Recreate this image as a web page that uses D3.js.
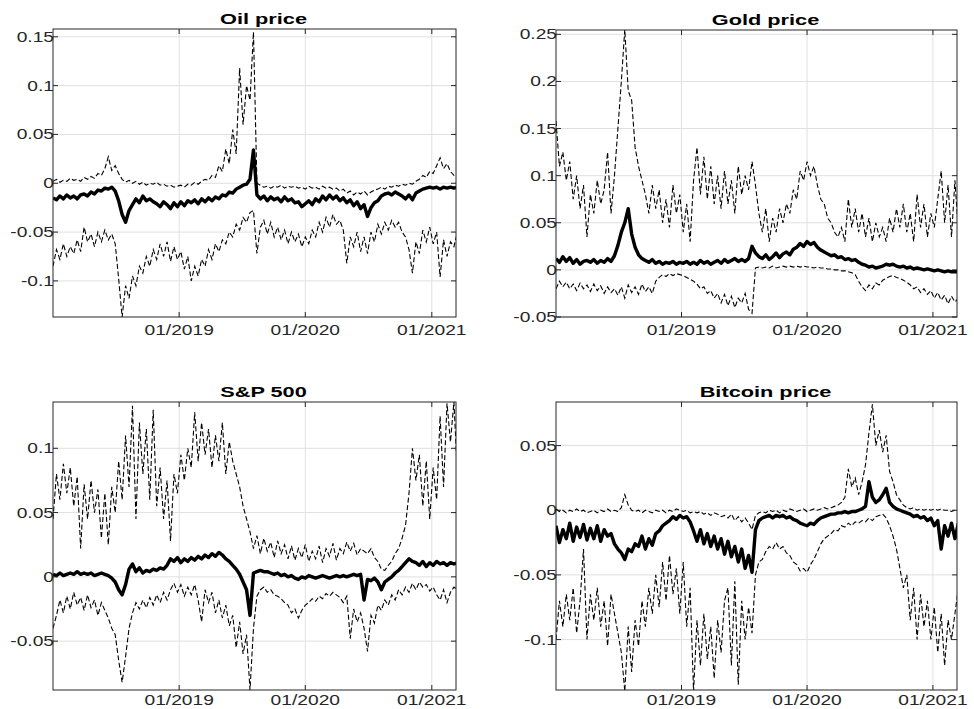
<!DOCTYPE html>
<html>
<head>
<meta charset="utf-8">
<script src="https://cdn.jsdelivr.net/npm/d3@7"></script>
<style>
  body { margin: 0; background: #fff; }
  svg { display: block; }
  text { font-family: "Liberation Sans", Arial, Helvetica, sans-serif; }
</style>
</head>
<body>
<script>
// sampling: one value every 10 days starting 01/01/2018
var startDate = "2018-01-01";
var endDate = "2021-03-12";
var stepDays = 10;

var xTickDates = ["2019-01-01", "2020-01-01", "2021-01-01"];
var xTickLabels = ["01/2019", "01/2020", "01/2021"];

var titles = ["Oil price", "Gold price", "S&P 500", "Bitcoin price"];

// Oil price
var oilTicks = [-0.1, -0.05, 0, 0.05, 0.1, 0.15];
var oilTickLabels = ["-0.1", "-0.05", "0", "0.05", "0.1", "0.15"];
var oilMean = [
  -0.015,-0.017,-0.013,-0.016,-0.012,-0.015,-0.013,-0.016,-0.012,-0.011,
  -0.013,-0.009,-0.011,-0.007,-0.008,-0.005,-0.006,-0.004,-0.008,-0.018,
  -0.032,-0.040,-0.028,-0.022,-0.016,-0.020,-0.013,-0.018,-0.016,-0.019,
  -0.021,-0.024,-0.019,-0.022,-0.026,-0.020,-0.024,-0.019,-0.023,-0.018,
  -0.020,-0.017,-0.021,-0.016,-0.019,-0.015,-0.018,-0.014,-0.016,-0.012,
  -0.013,-0.009,-0.010,-0.006,-0.004,-0.002,-0.001,0.004,0.034,-0.012,
  -0.016,-0.013,-0.018,-0.014,-0.017,-0.015,-0.019,-0.014,-0.018,-0.016,
  -0.020,-0.019,-0.024,-0.021,-0.018,-0.022,-0.016,-0.019,-0.013,-0.017,
  -0.012,-0.016,-0.013,-0.018,-0.015,-0.020,-0.017,-0.023,-0.019,-0.026,
  -0.022,-0.034,-0.025,-0.020,-0.018,-0.013,-0.011,-0.010,-0.012,-0.009,
  -0.011,-0.013,-0.016,-0.012,-0.017,-0.010,-0.008,-0.006,-0.005,-0.004,
  -0.005,-0.004,-0.006,-0.004,-0.005,-0.004,-0.005,-0.004];
var oilUpper = [
  0.002,0.004,0.001,0.003,0.002,0.005,0.003,0.004,0.002,0.006,
  0.004,0.007,0.005,0.010,0.008,0.015,0.027,0.013,0.018,0.010,
  0.004,0.001,0.003,0.000,0.002,-0.001,0.001,-0.002,0.000,-0.001,
  0.001,-0.002,-0.001,-0.003,-0.002,-0.004,-0.003,-0.002,-0.004,-0.001,
  -0.002,0.001,-0.001,0.002,0.004,0.003,0.008,0.006,0.018,0.012,
  0.035,0.020,0.055,0.030,0.118,0.060,0.100,0.085,0.155,0.000,
  -0.002,-0.004,-0.003,-0.005,-0.003,-0.004,-0.002,-0.005,-0.003,-0.004,
  -0.003,-0.005,-0.004,-0.006,-0.003,-0.005,-0.004,-0.006,-0.003,-0.005,
  -0.004,-0.006,-0.005,-0.008,-0.006,-0.010,-0.008,-0.012,-0.009,-0.011,
  -0.008,-0.012,-0.009,-0.007,-0.006,-0.004,-0.006,-0.003,-0.004,-0.002,
  -0.003,-0.001,-0.002,0.000,-0.001,0.002,0.004,0.008,0.006,0.012,
  0.010,0.018,0.026,0.015,0.020,0.012,0.008,0.006];
var oilLower = [
  -0.085,-0.068,-0.078,-0.062,-0.075,-0.065,-0.072,-0.058,-0.070,-0.045,
  -0.060,-0.052,-0.065,-0.050,-0.060,-0.048,-0.058,-0.052,-0.062,-0.098,
  -0.137,-0.105,-0.118,-0.095,-0.105,-0.085,-0.092,-0.075,-0.085,-0.068,
  -0.078,-0.062,-0.075,-0.060,-0.080,-0.065,-0.078,-0.070,-0.088,-0.075,
  -0.100,-0.085,-0.095,-0.078,-0.085,-0.068,-0.078,-0.062,-0.070,-0.058,
  -0.062,-0.050,-0.055,-0.042,-0.048,-0.035,-0.040,-0.030,-0.028,-0.072,
  -0.045,-0.038,-0.052,-0.040,-0.055,-0.045,-0.058,-0.048,-0.062,-0.050,
  -0.060,-0.052,-0.065,-0.055,-0.062,-0.048,-0.055,-0.040,-0.050,-0.035,
  -0.045,-0.032,-0.042,-0.038,-0.048,-0.082,-0.055,-0.065,-0.050,-0.070,
  -0.055,-0.072,-0.050,-0.060,-0.042,-0.052,-0.040,-0.048,-0.038,-0.045,
  -0.040,-0.050,-0.055,-0.068,-0.092,-0.060,-0.072,-0.048,-0.060,-0.045,
  -0.062,-0.050,-0.096,-0.058,-0.075,-0.060,-0.065,-0.050];

// Gold price
var goldTicks = [-0.05, 0, 0.05, 0.1, 0.15, 0.2, 0.25];
var goldTickLabels = ["-0.05", "0", "0.05", "0.1", "0.15", "0.2", "0.25"];
var goldMean = [
  0.012,0.008,0.014,0.009,0.013,0.007,0.011,0.006,0.009,0.010,
  0.008,0.011,0.007,0.010,0.008,0.012,0.009,0.015,0.026,0.040,
  0.050,0.065,0.038,0.024,0.016,0.012,0.010,0.008,0.011,0.007,
  0.009,0.006,0.008,0.007,0.009,0.006,0.008,0.007,0.009,0.006,
  0.008,0.006,0.010,0.007,0.009,0.006,0.008,0.010,0.007,0.011,
  0.008,0.010,0.012,0.009,0.011,0.009,0.012,0.025,0.018,0.014,
  0.012,0.016,0.011,0.014,0.018,0.013,0.017,0.019,0.016,0.022,
  0.024,0.028,0.025,0.030,0.027,0.029,0.024,0.021,0.019,0.017,
  0.015,0.016,0.013,0.014,0.011,0.012,0.010,0.011,0.008,0.006,
  0.005,0.003,0.004,0.002,0.003,0.004,0.006,0.005,0.006,0.004,
  0.003,0.004,0.002,0.003,0.001,0.002,0.001,0.000,0.001,0.000,
  -0.001,0.000,-0.001,-0.002,-0.001,-0.002,-0.002,-0.002];
var goldUpper = [
  0.158,0.110,0.125,0.095,0.115,0.075,0.100,0.065,0.090,0.035,
  0.080,0.060,0.095,0.070,0.085,0.125,0.060,0.100,0.150,0.200,
  0.255,0.190,0.180,0.130,0.110,0.095,0.080,0.060,0.090,0.065,
  0.085,0.050,0.075,0.045,0.090,0.060,0.080,0.040,0.070,0.030,
  0.095,0.130,0.080,0.120,0.075,0.110,0.070,0.100,0.065,0.105,
  0.070,0.095,0.060,0.110,0.080,0.100,0.085,0.115,0.090,0.060,
  0.040,0.065,0.030,0.055,0.040,0.065,0.050,0.070,0.060,0.085,
  0.075,0.105,0.095,0.115,0.100,0.110,0.090,0.075,0.070,0.055,
  0.050,0.040,0.035,0.045,0.030,0.075,0.045,0.065,0.040,0.060,
  0.035,0.055,0.030,0.050,0.035,0.045,0.030,0.055,0.040,0.065,
  0.045,0.070,0.040,0.060,0.030,0.080,0.045,0.070,0.035,0.060,
  0.045,0.075,0.105,0.050,0.090,0.035,0.095,0.040];
var goldLower = [
  -0.020,-0.012,-0.018,-0.013,-0.020,-0.015,-0.022,-0.014,-0.020,-0.016,
  -0.023,-0.015,-0.022,-0.017,-0.025,-0.018,-0.024,-0.020,-0.027,-0.018,
  -0.030,-0.016,-0.024,-0.018,-0.026,-0.015,-0.023,-0.018,-0.025,-0.012,
  -0.008,-0.005,-0.007,-0.004,-0.006,-0.004,-0.005,-0.006,-0.008,-0.010,
  -0.012,-0.015,-0.020,-0.018,-0.025,-0.022,-0.030,-0.025,-0.035,-0.026,
  -0.038,-0.028,-0.040,-0.030,-0.035,-0.025,-0.042,-0.046,0.002,0.003,
  0.002,0.003,0.002,0.004,0.002,0.003,0.004,0.003,0.004,0.003,
  0.004,0.003,0.004,0.003,0.003,0.002,0.003,0.002,0.002,0.001,
  0.001,0.000,0.000,-0.001,-0.001,-0.002,-0.003,-0.005,-0.012,-0.018,
  -0.022,-0.016,-0.020,-0.014,-0.016,-0.011,-0.009,-0.007,-0.006,-0.008,
  -0.009,-0.011,-0.013,-0.016,-0.020,-0.018,-0.024,-0.020,-0.026,-0.022,
  -0.030,-0.024,-0.032,-0.027,-0.036,-0.028,-0.034,-0.030];

// S&P 500
var spTicks = [-0.05, 0, 0.05, 0.1];
var spTickLabels = ["-0.05", "0", "0.05", "0.1"];
var spMean = [
  0.002,0.001,0.003,0.001,0.002,0.003,0.002,0.004,0.002,0.003,
  0.002,0.003,0.001,0.002,0.003,0.002,0.001,-0.001,-0.004,-0.010,
  -0.014,-0.006,0.006,0.010,0.004,0.007,0.003,0.005,0.004,0.006,
  0.005,0.007,0.006,0.009,0.014,0.012,0.015,0.011,0.014,0.012,
  0.015,0.013,0.016,0.014,0.017,0.015,0.018,0.016,0.019,0.017,
  0.014,0.012,0.009,0.006,0.002,-0.004,-0.010,-0.030,0.003,0.004,
  0.005,0.004,0.004,0.003,0.002,0.003,0.001,0.002,0.000,0.001,
  -0.001,-0.002,0.000,-0.001,0.001,0.000,-0.001,0.000,0.001,0.000,
  -0.001,0.000,0.001,0.000,0.001,0.000,0.001,0.002,0.001,0.002,
  -0.018,-0.002,-0.003,-0.001,-0.004,-0.010,-0.004,-0.002,0.000,0.003,
  0.005,0.008,0.011,0.014,0.012,0.011,0.009,0.012,0.008,0.011,
  0.009,0.012,0.010,0.011,0.009,0.011,0.010,0.011];
var spUpper = [
  0.045,0.080,0.060,0.088,0.065,0.085,0.055,0.078,0.022,0.072,
  0.045,0.075,0.050,0.068,0.030,0.065,0.025,0.070,0.050,0.090,
  0.060,0.110,0.070,0.133,0.045,0.120,0.080,0.115,0.060,0.130,
  0.055,0.085,0.045,0.075,0.028,0.080,0.065,0.095,0.075,0.100,
  0.085,0.128,0.090,0.120,0.095,0.115,0.085,0.110,0.090,0.120,
  0.080,0.105,0.090,0.080,0.070,0.055,0.045,0.035,0.022,0.032,
  0.018,0.030,0.020,0.027,0.015,0.028,0.018,0.025,0.014,0.024,
  0.013,0.022,0.015,0.025,0.012,0.020,0.014,0.024,0.011,0.022,
  0.016,0.026,0.013,0.022,0.018,0.027,0.020,0.026,0.017,0.022,
  0.020,0.018,0.022,0.015,0.012,0.006,0.005,0.009,0.012,0.018,
  0.022,0.030,0.040,0.065,0.100,0.075,0.095,0.055,0.090,0.045,
  0.085,0.060,0.125,0.070,0.135,0.105,0.136,0.080];
var spLower = [
  -0.040,-0.030,-0.018,-0.028,-0.015,-0.025,-0.012,-0.022,-0.016,-0.026,
  -0.014,-0.024,-0.018,-0.030,-0.020,-0.026,-0.032,-0.040,-0.045,-0.065,
  -0.082,-0.062,-0.040,-0.028,-0.020,-0.025,-0.018,-0.024,-0.016,-0.022,
  -0.014,-0.020,-0.012,-0.018,-0.010,-0.005,-0.012,-0.006,-0.015,-0.008,
  -0.014,-0.006,-0.018,-0.035,-0.010,-0.020,-0.012,-0.028,-0.018,-0.032,
  -0.022,-0.038,-0.030,-0.055,-0.035,-0.060,-0.045,-0.088,-0.040,-0.015,
  -0.010,-0.008,-0.012,-0.010,-0.014,-0.015,-0.017,-0.020,-0.022,-0.028,
  -0.025,-0.032,-0.026,-0.022,-0.020,-0.017,-0.019,-0.015,-0.017,-0.013,
  -0.015,-0.012,-0.014,-0.016,-0.020,-0.015,-0.048,-0.025,-0.035,-0.028,
  -0.040,-0.058,-0.030,-0.036,-0.022,-0.026,-0.018,-0.022,-0.014,-0.018,
  -0.010,-0.014,-0.008,-0.012,-0.005,-0.010,-0.004,-0.008,-0.006,-0.011,
  -0.008,-0.014,-0.018,-0.010,-0.020,-0.012,-0.008,-0.010];

// Bitcoin price
var btcTicks = [-0.1, -0.05, 0, 0.05];
var btcTickLabels = ["-0.1", "-0.05", "0", "0.05"];
var btcMean = [
  -0.012,-0.025,-0.015,-0.022,-0.010,-0.024,-0.013,-0.021,-0.011,-0.023,
  -0.014,-0.022,-0.012,-0.024,-0.015,-0.020,-0.018,-0.026,-0.030,-0.033,
  -0.038,-0.030,-0.032,-0.026,-0.028,-0.020,-0.030,-0.022,-0.027,-0.018,
  -0.016,-0.012,-0.010,-0.008,-0.005,-0.007,-0.004,-0.006,-0.005,-0.009,
  -0.016,-0.024,-0.015,-0.026,-0.018,-0.028,-0.020,-0.030,-0.022,-0.034,
  -0.024,-0.036,-0.028,-0.040,-0.030,-0.045,-0.035,-0.048,-0.015,-0.008,
  -0.006,-0.005,-0.004,-0.006,-0.004,-0.005,-0.004,-0.006,-0.005,-0.007,
  -0.008,-0.010,-0.011,-0.012,-0.010,-0.011,-0.008,-0.006,-0.005,-0.004,
  -0.003,-0.003,-0.002,-0.002,-0.001,-0.002,-0.001,-0.001,0.000,0.001,
  0.003,0.022,0.010,0.006,0.008,0.012,0.017,0.006,0.003,0.001,
  0.000,-0.001,-0.002,-0.003,-0.005,-0.004,-0.006,-0.005,-0.008,-0.006,
  -0.012,-0.008,-0.030,-0.012,-0.020,-0.010,-0.022,-0.010];
var btcUpper = [
  0.001,-0.001,0.000,-0.002,0.000,-0.001,0.001,-0.001,0.000,-0.002,
  -0.001,0.000,-0.002,0.000,-0.001,0.001,-0.001,0.000,-0.001,0.002,
  0.012,0.004,0.000,-0.001,0.000,-0.002,0.000,-0.001,-0.002,0.000,
  -0.001,0.000,-0.002,0.000,-0.001,0.001,0.000,-0.001,0.000,-0.002,
  -0.001,-0.002,-0.001,-0.003,-0.002,-0.004,-0.002,-0.003,-0.005,-0.004,
  -0.006,-0.003,-0.008,-0.005,-0.009,-0.006,-0.010,-0.015,-0.004,-0.002,
  -0.001,-0.002,0.000,-0.001,0.000,-0.002,0.000,-0.001,0.001,0.000,
  -0.001,0.000,0.001,-0.001,0.000,0.001,0.000,0.001,0.002,0.001,
  0.002,0.003,0.004,0.006,0.010,0.032,0.018,0.025,0.012,0.022,
  0.035,0.060,0.082,0.050,0.062,0.045,0.058,0.030,0.022,0.012,
  0.008,0.004,0.002,0.001,0.002,0.000,0.001,0.000,0.001,0.000,
  0.001,0.000,0.001,0.000,0.000,-0.001,0.000,0.000];
var btcLower = [
  -0.100,-0.070,-0.090,-0.065,-0.085,-0.060,-0.095,-0.070,-0.030,-0.100,
  -0.065,-0.085,-0.060,-0.090,-0.070,-0.105,-0.065,-0.080,-0.095,-0.110,
  -0.140,-0.090,-0.125,-0.085,-0.105,-0.070,-0.090,-0.060,-0.080,-0.050,
  -0.075,-0.040,-0.070,-0.035,-0.065,-0.045,-0.080,-0.040,-0.090,-0.060,
  -0.140,-0.085,-0.120,-0.080,-0.115,-0.090,-0.130,-0.085,-0.110,-0.070,
  -0.060,-0.120,-0.055,-0.135,-0.070,-0.100,-0.075,-0.095,-0.050,-0.040,
  -0.038,-0.032,-0.028,-0.030,-0.025,-0.030,-0.028,-0.033,-0.035,-0.040,
  -0.042,-0.047,-0.045,-0.048,-0.042,-0.038,-0.032,-0.026,-0.022,-0.020,
  -0.018,-0.015,-0.016,-0.012,-0.013,-0.010,-0.012,-0.009,-0.010,-0.008,
  -0.009,-0.006,-0.008,-0.005,-0.004,-0.003,-0.006,-0.012,-0.020,-0.030,
  -0.045,-0.060,-0.050,-0.085,-0.060,-0.100,-0.065,-0.090,-0.070,-0.100,
  -0.075,-0.110,-0.080,-0.120,-0.085,-0.100,-0.080,-0.060];

function createPanels(){
    var w = 974, h = 709;
    var parse = d3.utcParse("%Y-%m-%d");
    var start = parse(startDate);
    var dates = d3.range(oilMean.length).map(function(i){
        return d3.utcDay.offset(start, i * stepDays);
    });
    var xTicks = xTickDates.map(parse);

    var svg = d3.select("body")
                .append("svg")
                .attr("width", w)
                .attr("height", h);

    var panels = [
        {title: titles[0], mean: oilMean, upper: oilUpper, lower: oilLower,
         ticks: oilTicks, labels: oilTickLabels, domain: [-0.137, 0.158],
         left: 53, right: 456, top: 29, bottom: 317, labelGap: 18},
        {title: titles[1], mean: goldMean, upper: goldUpper, lower: goldLower,
         ticks: goldTicks, labels: goldTickLabels, domain: [-0.05, 0.2546],
         left: 556, right: 957, top: 30, bottom: 317, labelGap: 18},
        {title: titles[2], mean: spMean, upper: spUpper, lower: spLower,
         ticks: spTicks, labels: spTickLabels, domain: [-0.088, 0.136],
         left: 53, right: 456, top: 402, bottom: 690, labelGap: 15},
        {title: titles[3], mean: btcMean, upper: btcUpper, lower: btcLower,
         ticks: btcTicks, labels: btcTickLabels, domain: [-0.139, 0.0837],
         left: 556, right: 957, top: 402, bottom: 690, labelGap: 15}
    ];

    panels.forEach(function(p, k){
        var x = d3.scaleUtc()
                  .domain([start, parse(endDate)])
                  .range([p.left, p.right]);
        var y = d3.scaleLinear()
                  .domain(p.domain)
                  .range([p.bottom, p.top]);

        var g = svg.append("g").attr("class", "panel");

        svg.append("clipPath")
           .attr("id", "clip" + k)
           .append("rect")
           .attr("x", p.left)
           .attr("y", p.top)
           .attr("width", p.right - p.left)
           .attr("height", p.bottom - p.top);

        // grid
        g.selectAll(".gx")
         .data(xTicks)
         .enter()
         .append("line")
         .attr("x1", function(d){ return x(d); })
         .attr("x2", function(d){ return x(d); })
         .attr("y1", p.top)
         .attr("y2", p.bottom)
         .attr("stroke", "#e0e0e0")
         .attr("stroke-width", 1);

        g.selectAll(".gy")
         .data(p.ticks)
         .enter()
         .append("line")
         .attr("x1", p.left)
         .attr("x2", p.right)
         .attr("y1", function(d){ return y(d); })
         .attr("y2", function(d){ return y(d); })
         .attr("stroke", "#e0e0e0")
         .attr("stroke-width", 1);

        var line = d3.line()
                     .x(function(d, i){ return x(dates[i]); })
                     .y(function(d){ return y(d); });

        var lines = g.append("g").attr("clip-path", "url(#clip" + k + ")");

        [p.upper, p.lower].forEach(function(s){
            lines.append("path")
                 .datum(s)
                 .attr("d", line)
                 .attr("fill", "none")
                 .attr("stroke", "#000")
                 .attr("stroke-width", 1.1)
                 .attr("stroke-dasharray", "5,2.5");
        });

        lines.append("path")
             .datum(p.mean)
             .attr("d", line)
             .attr("fill", "none")
             .attr("stroke", "#000")
             .attr("stroke-width", 3.4)
             .attr("stroke-linejoin", "round");

        // box
        g.append("rect")
         .attr("x", p.left)
         .attr("y", p.top)
         .attr("width", p.right - p.left)
         .attr("height", p.bottom - p.top)
         .attr("fill", "none")
         .attr("stroke", "#262626")
         .attr("stroke-width", 1);

        // inward ticks on all four sides
        xTicks.forEach(function(d){
            g.append("line").attr("x1", x(d)).attr("x2", x(d))
             .attr("y1", p.bottom).attr("y2", p.bottom - 5)
             .attr("stroke", "#262626");
            g.append("line").attr("x1", x(d)).attr("x2", x(d))
             .attr("y1", p.top).attr("y2", p.top + 5)
             .attr("stroke", "#262626");
        });
        p.ticks.forEach(function(d){
            g.append("line").attr("x1", p.left).attr("x2", p.left + 5)
             .attr("y1", y(d)).attr("y2", y(d))
             .attr("stroke", "#262626");
            g.append("line").attr("x1", p.right).attr("x2", p.right - 5)
             .attr("y1", y(d)).attr("y2", y(d))
             .attr("stroke", "#262626");
        });

        // tick labels (reference text is stretched sideways)
        g.selectAll(".xl")
         .data(xTicks)
         .enter()
         .append("text")
         .attr("transform", function(d){
             return "translate(" + x(d) + "," + (p.bottom + p.labelGap) + ") scale(1.28,1)";
         })
         .attr("text-anchor", "middle")
         .attr("font-size", 15)
         .attr("fill", "#262626")
         .text(function(d, i){ return xTickLabels[i]; });

        g.selectAll(".yl")
         .data(p.ticks)
         .enter()
         .append("text")
         .attr("transform", function(d){
             return "translate(" + (p.left + 1) + "," + (y(d) + 5) + ") scale(1.28,1)";
         })
         .attr("text-anchor", "end")
         .attr("font-size", 15)
         .attr("fill", "#262626")
         .text(function(d, i){ return p.labels[i]; });

        g.append("text")
         .attr("transform", "translate(" + ((p.left + p.right) / 2 + 9) + "," + (p.top - 5) + ") scale(1.45,1)")
         .attr("text-anchor", "middle")
         .attr("font-size", 15)
         .attr("font-weight", "bold")
         .attr("fill", "#000")
         .text(p.title);
    });
}

createPanels();
</script>
</body>
</html>
